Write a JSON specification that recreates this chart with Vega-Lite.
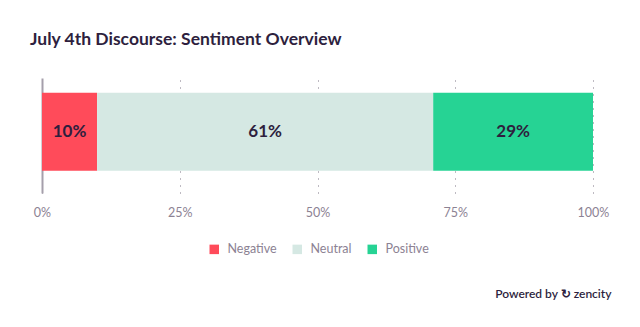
{
  "$schema": "https://vega.github.io/schema/vega-lite/v6.json",
  "width": 551,
  "height": 115,
  "autosize": {"type": "none"},
  "padding": {"left": 42, "top": 78, "right": 47, "bottom": 134},
  "background": "white",
  "title": {
    "text": "July 4th Discourse: Sentiment Overview",
    "anchor": "start",
    "frame": "group",
    "dx": -12,
    "offset": 30,
    "font": "Lato",
    "fontSize": 17.5,
    "fontWeight": "bold",
    "color": "#2e1f3e"
  },
  "data": {
    "values": [
      {"sentiment": "Negative", "share": 0.10, "order": 1, "row": "all"},
      {"sentiment": "Neutral", "share": 0.61, "order": 2, "row": "all"},
      {"sentiment": "Positive", "share": 0.29, "order": 3, "row": "all"}
    ]
  },
  "encoding": {
    "y": {
      "field": "row",
      "type": "nominal",
      "scale": {"paddingInner": 0, "paddingOuter": 0.237, "align": 0.4},
      "axis": {"title": null, "labels": false, "ticks": false, "domain": true, "domainColor": "#a59fab", "domainWidth": 2, "grid": false}
    },
    "x": {
      "field": "share",
      "type": "quantitative",
      "stack": "zero",
      "scale": {"domain": [0, 1], "nice": false},
      "axis": {
        "values": [0, 0.25, 0.5, 0.75, 1],
        "format": ".0%",
        "domain": false,
        "ticks": false,
        "grid": true,
        "gridColor": "#7d7484",
        "gridDash": [1, 6],
        "gridWidth": 1,
        "labelFlush": false,
        "labelFont": "Lato",
        "labelFontSize": 12.5,
        "labelColor": "#8c8293",
        "labelPadding": 13,
        "title": "Powered by ↻ zencity",
        "titleFont": "Lato",
        "titleFontSize": 12,
        "titleFontWeight": 600,
        "titleColor": "#2e1f3e",
        "titleAnchor": "end",
        "titleAlign": "right",
        "titleBaseline": "middle",
        "titleX": 569,
        "titleY": 100
      }
    },
    "order": {"field": "order"}
  },
  "layer": [
    {
      "mark": {"type": "bar"},
      "encoding": {
        "color": {
          "field": "sentiment",
          "type": "nominal",
          "scale": {"domain": ["Negative", "Neutral", "Positive"], "range": ["#ff4b5a", "#d5e8e3", "#26d394"]},
          "legend": {
            "orient": "none",
            "direction": "horizontal",
            "legendX": 166,
            "legendY": 165,
            "title": null,
            "symbolType": "square",
            "symbolSize": 90,
            "symbolStrokeWidth": 0,
            "labelFont": "Lato",
            "labelFontSize": 12.5,
            "labelColor": "#8c8293",
            "columnPadding": 14,
            "labelOffset": 7
          }
        }
      }
    },
    {
      "mark": {"type": "text", "font": "Lato", "fontSize": 17, "fontWeight": "bold", "color": "#2e1f3e"},
      "encoding": {
        "x": {"field": "share", "type": "quantitative", "stack": "zero", "bandPosition": 0.5},
        "text": {"field": "share", "type": "quantitative", "format": ".0%"}
      }
    }
  ],
  "config": {"view": {"stroke": null}}
}
